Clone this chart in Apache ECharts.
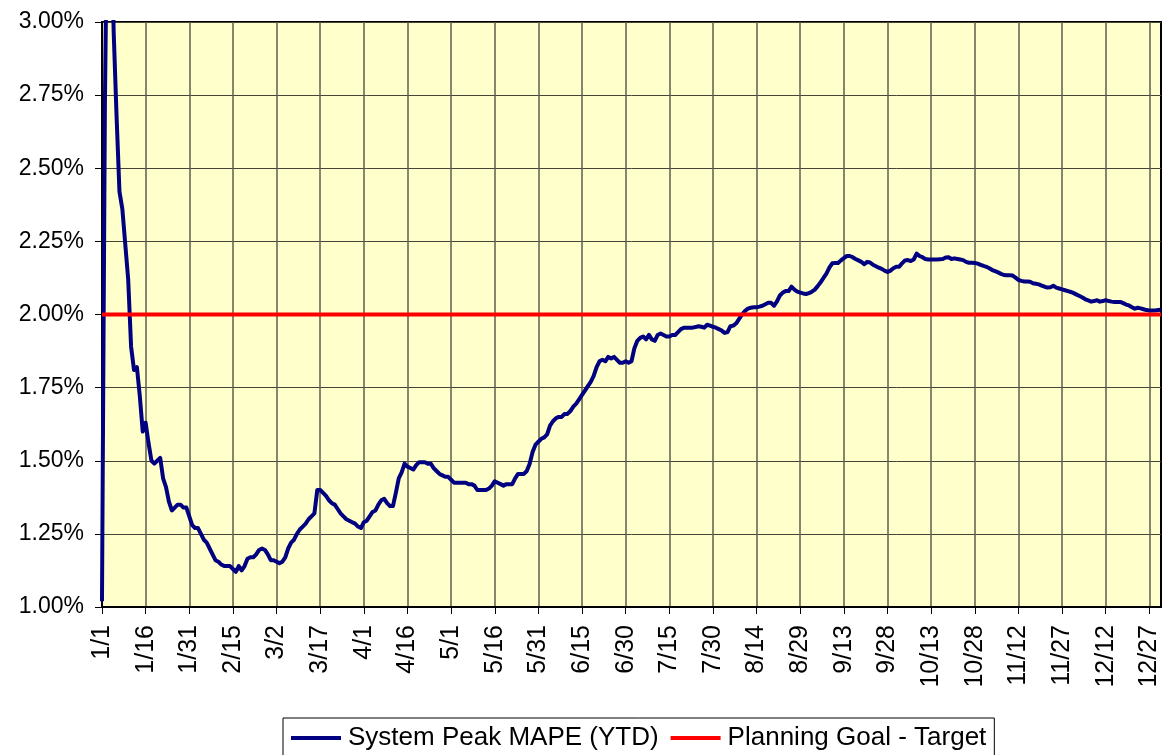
<!DOCTYPE html>
<html>
<head>
<meta charset="utf-8">
<title>System Peak MAPE (YTD)</title>
<script src="https://cdn.jsdelivr.net/npm/echarts@6/dist/echarts.min.js"></script>
<style>
  html, body { margin: 0; padding: 0; background: #ffffff; }
  #chart { width: 1169px; height: 755px; }
</style>
</head>
<body>
<div id="chart"></div>
<script>
// Days in each month of the (non-leap) year; category labels are "M/D".
const MONTH_DAYS = [31, 28, 31, 30, 31, 30, 31, 31, 30, 31, 30, 31];

// Year-to-date system peak MAPE, in percent, one value per day.
const jan = [1.02, 2.72, 3.60, 3.50, 2.97, 2.68, 2.42, 2.36, 2.24, 2.12,
             1.89, 1.81, 1.82, 1.72, 1.60, 1.63, 1.56, 1.50, 1.49, 1.50,
             1.51, 1.44, 1.41, 1.36, 1.33, 1.34, 1.35, 1.35, 1.34, 1.34,
             1.31];
const feb = [1.28, 1.27, 1.27, 1.25, 1.23, 1.22, 1.20, 1.18, 1.16, 1.155,
             1.145, 1.14, 1.14, 1.14, 1.13, 1.12, 1.14, 1.125, 1.14, 1.165,
             1.17, 1.17, 1.18, 1.195, 1.20, 1.195, 1.18, 1.16];
const mar = [1.16, 1.155, 1.15, 1.155, 1.17, 1.20, 1.22, 1.23, 1.25, 1.265,
             1.275, 1.285, 1.30, 1.31, 1.32, 1.40, 1.40, 1.39, 1.38, 1.365,
             1.355, 1.35, 1.335, 1.32, 1.31, 1.30, 1.295, 1.29, 1.285, 1.275,
             1.27];
const apr = [1.29, 1.295, 1.31, 1.325, 1.33, 1.35, 1.365, 1.37, 1.355, 1.345,
             1.345, 1.39, 1.44, 1.46, 1.49, 1.48, 1.475, 1.47, 1.485, 1.495,
             1.495, 1.495, 1.49, 1.49, 1.475, 1.465, 1.455, 1.45, 1.445, 1.445];
const may = [1.435, 1.425, 1.425, 1.425, 1.425, 1.425, 1.42, 1.42, 1.415, 1.40,
             1.40, 1.40, 1.40, 1.405, 1.415, 1.43, 1.425, 1.42, 1.415, 1.42,
             1.42, 1.42, 1.44, 1.455, 1.455, 1.455, 1.465, 1.49, 1.53, 1.555,
             1.565];
const jun = [1.575, 1.58, 1.59, 1.62, 1.635, 1.645, 1.65, 1.65, 1.66, 1.66,
             1.67, 1.685, 1.695, 1.71, 1.725, 1.74, 1.755, 1.77, 1.79, 1.82,
             1.84, 1.845, 1.84, 1.855, 1.85, 1.855, 1.845, 1.835, 1.835, 1.84];
const jul = [1.835, 1.84, 1.885, 1.91, 1.92, 1.925, 1.915, 1.93, 1.915, 1.91,
             1.93, 1.935, 1.93, 1.925, 1.925, 1.93, 1.93, 1.94, 1.95, 1.955,
             1.955, 1.955, 1.955, 1.957, 1.96, 1.958, 1.955, 1.965, 1.962, 1.958,
             1.955];
const aug = [1.95, 1.945, 1.937, 1.94, 1.96, 1.962, 1.97, 1.985, 2.00, 2.012,
             2.02, 2.023, 2.025, 2.025, 2.027, 2.03, 2.035, 2.04, 2.04, 2.03,
             2.045, 2.065, 2.075, 2.08, 2.08, 2.095, 2.085, 2.078, 2.075, 2.072,
             2.07];
const sep = [2.073, 2.078, 2.085, 2.097, 2.11, 2.125, 2.14, 2.16, 2.175, 2.176,
             2.176, 2.185, 2.193, 2.20, 2.20, 2.196, 2.19, 2.185, 2.18, 2.172,
             2.18, 2.178, 2.17, 2.165, 2.16, 2.156, 2.15, 2.145, 2.15, 2.158];
const oct = [2.163, 2.163, 2.175, 2.185, 2.186, 2.183, 2.188, 2.208, 2.20, 2.196,
             2.19, 2.188, 2.188, 2.188, 2.188, 2.189, 2.19, 2.195, 2.196, 2.19,
             2.192, 2.19, 2.188, 2.186, 2.18, 2.177, 2.177, 2.176, 2.174, 2.17,
             2.166];
const nov = [2.163, 2.158, 2.152, 2.148, 2.144, 2.139, 2.135, 2.134, 2.134, 2.133,
             2.126, 2.118, 2.115, 2.113, 2.113, 2.112, 2.107, 2.105, 2.103, 2.099,
             2.095, 2.092, 2.093, 2.098, 2.092, 2.089, 2.086, 2.083, 2.08, 2.077];
const dec = [2.073, 2.068, 2.063, 2.058, 2.052, 2.048, 2.044, 2.046, 2.049, 2.044,
             2.046, 2.049, 2.046, 2.044, 2.043, 2.043, 2.043, 2.039, 2.034, 2.031,
             2.025, 2.02, 2.023, 2.021, 2.018, 2.015, 2.014, 2.014, 2.014, 2.015,
             2.016];

// Planning goal, in percent.
const GOAL = 2.00;

const SERIES_NAMES = ['System Peak MAPE (YTD)', 'Planning Goal - Target'];

// Build the daily category labels.
const days = [];
MONTH_DAYS.forEach(function (n, m) {
  for (let d = 1; d <= n; d++) days.push((m + 1) + '/' + d);
});

const mape = [].concat(jan, feb, mar, apr, may, jun, jul, aug, sep, oct, nov, dec);
const goal = days.map(function () { return GOAL; });

const FONT = '"Liberation Sans", Arial, sans-serif';

const chart = echarts.init(document.getElementById('chart'), null, { renderer: 'canvas' });

chart.setOption({
  animation: false,
  backgroundColor: '#ffffff',
  grid: {
    left: 102,
    right: 8,
    top: 22,
    bottom: 148,
    show: true,
    backgroundColor: '#FFFFCC',
    borderColor: '#000000',
    borderWidth: 2
  },
  legend: {
    data: SERIES_NAMES,
    left: 283,
    top: 718,
    orient: 'horizontal',
    itemWidth: 50,
    itemHeight: 4,
    itemGap: 12,
    padding: [7, 8, 10, 8],
    borderColor: '#000000',
    borderWidth: 1,
    icon: 'rect',
    textStyle: { fontFamily: FONT, fontSize: 26, color: '#000000', padding: [0, 0, 0, 2] }
  },
  xAxis: {
    type: 'category',
    data: days,
    boundaryGap: false,
    axisLine: { show: true, lineStyle: { color: '#000000', width: 2 } },
    axisTick: { show: true, interval: 14, length: 7, lineStyle: { color: '#000000', width: 1 } },
    axisLabel: {
      interval: 14,
      rotate: 90,
      margin: 18,
      fontFamily: FONT,
      fontSize: 25,
      color: '#000000'
    },
    splitLine: { show: true, interval: 14, lineStyle: { color: '#5e5e4c', width: 1.5 } }
  },
  yAxis: {
    type: 'value',
    min: 1,
    max: 3,
    interval: 0.25,
    axisLine: { show: true, lineStyle: { color: '#000000', width: 2 } },
    axisTick: { show: true, length: 7, lineStyle: { color: '#000000', width: 1 } },
    axisLabel: {
      margin: 18,
      fontFamily: FONT,
      fontSize: 23,
      color: '#000000',
      formatter: function (v) { return v.toFixed(2) + '%'; }
    },
    splitLine: { show: true, lineStyle: { color: '#444438', width: 1 } }
  },
  series: [
    {
      name: SERIES_NAMES[0],
      type: 'line',
      data: mape,
      symbol: 'none',
      clip: true,
      itemStyle: { color: '#000080' },
      lineStyle: { color: '#000080', width: 4, join: 'round' }
    },
    {
      name: SERIES_NAMES[1],
      type: 'line',
      data: goal,
      symbol: 'none',
      clip: true,
      itemStyle: { color: '#FF0000' },
      lineStyle: { color: '#FF0000', width: 4 }
    }
  ]
});
</script>
</body>
</html>
